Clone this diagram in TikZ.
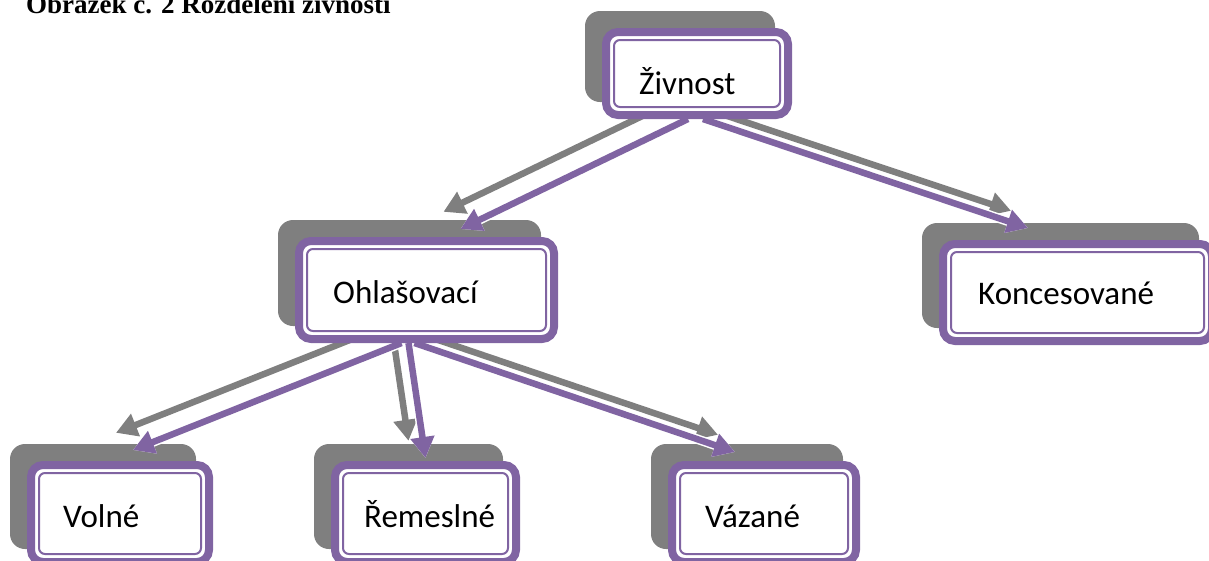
\documentclass[tikz,border=0pt]{standalone}
\usepackage{fontspec}
\setmainfont{Carlito}
\newfontfamily\titlefont{Liberation Serif}
\usetikzlibrary{arrows.meta}
\definecolor{pur}{HTML}{8064A2}
\definecolor{shd}{HTML}{7F7F7F}
\begin{document}
\begin{tikzpicture}[x=1pt,y=-1pt,
  shadowbox/.style={rectangle, rounded corners=15pt, fill=shd, inner sep=0pt},
  outerbox/.style={rectangle, rounded corners=12pt, draw=pur, line width=8pt, fill=white, inner sep=0pt},
  innerbox/.style={rectangle, rounded corners=6pt, draw=pur, line width=2pt, inner sep=0pt},
  boxtext/.style={anchor=base west, inner sep=0pt, font=\fontsize{33}{40}\selectfont},
  parrow/.style={draw=pur, line width=6.5pt, -{Triangle[length=21pt,width=23pt]},
    preaction={draw=white, line width=9.5pt, -{Triangle[length=21pt,width=23pt]}}},
  garrow/.style={draw=shd, line width=6.5pt, -{Triangle[length=21pt,width=23pt]}}
]
\useasboundingbox (0,0) rectangle (1209,560);
\clip (0,0) rectangle (1209,560);

% title (cut at the top edge, as in the reference)
\node[anchor=base west, inner sep=0pt, font=\titlefont\bfseries\fontsize{27}{32}\selectfont] (title) at (26,13) {Obrázek č. 2 Rozdělení živností};

% shadows
\node[shadowbox, minimum width=190pt, minimum height=91pt] (zvs) at (680,56.5) {};
\node[shadowbox, minimum width=263pt, minimum height=106pt] (ohs) at (409.5,273) {};
\node[shadowbox, minimum width=277pt, minimum height=105pt] (kos) at (1060.5,275.5) {};
\node[shadowbox, minimum width=186pt, minimum height=105pt] (vos) at (103,496.5) {};
\node[shadowbox, minimum width=189pt, minimum height=105pt] (res) at (408.5,496.5) {};
\node[shadowbox, minimum width=192pt, minimum height=105pt] (vas) at (747,496.5) {};

% shadow arrows
\draw[garrow] ([xshift=-9pt]zvs.south) -- ([shift={(34,-8)}]ohs.north);
\draw[garrow] ([xshift=6pt]zvs.south) -- ([shift={(-49.5,-12)}]kos.north);
\draw[garrow] ([xshift=-25pt]ohs.south) -- ([shift={(13,-11)}]vos.north);
\draw[garrow] ([xshift=-18pt]ohs.south) -- ([shift={(0,-3)}]res.north);
\draw[garrow] ([xshift=-12pt]ohs.south) -- ([shift={(-29,-9)}]vas.north);

% main box centres
\path (697,73.5) coordinate (zvc) (426.5,290) coordinate (ohc) (1077.5,292.5) coordinate (koc)
      (120,513.5) coordinate (voc) (425.5,513.5) coordinate (rec) (764,513.5) coordinate (vac);

% purple arrows
\draw[parrow] ([shift={(-9,45.5)}]zvc) -- ([shift={(34,-61)}]ohc);
\draw[parrow] ([shift={(6,45.5)}]zvc) -- ([shift={(-49.5,-64.5)}]koc);
\draw[parrow] ([shift={(-25,53)}]ohc) -- ([shift={(13,-63.5)}]voc);
\draw[parrow] ([shift={(-18,53)}]ohc) -- ([shift={(0,-55.5)}]rec);
\draw[parrow] ([shift={(-12,53)}]ohc) -- ([shift={(-29,-61.5)}]vac);

% boxes
\node[outerbox, minimum width=182pt, minimum height=83pt] (zv) at (zvc) {};
\node[innerbox, minimum width=166pt, minimum height=67pt] (zvi) at (zvc) {};
\node[outerbox, minimum width=255pt, minimum height=98pt] (oh) at (ohc) {};
\node[innerbox, minimum width=239pt, minimum height=82pt] (ohi) at (ohc) {};
\node[outerbox, minimum width=269pt, minimum height=97pt] (ko) at (koc) {};
\node[innerbox, minimum width=253pt, minimum height=81pt] (koi) at (koc) {};
\node[outerbox, minimum width=178pt, minimum height=97pt] (vo) at (voc) {};
\node[innerbox, minimum width=162pt, minimum height=81pt] (voi) at (voc) {};
\node[outerbox, minimum width=181pt, minimum height=97pt] (re) at (rec) {};
\node[innerbox, minimum width=165pt, minimum height=81pt] (rei) at (rec) {};
\node[outerbox, minimum width=184pt, minimum height=97pt] (va) at (vac) {};
\node[innerbox, minimum width=168pt, minimum height=81pt] (vai) at (vac) {};

% texts
\node[boxtext] (zvt) at (639,94) {Živnost};
\node[boxtext] (oht) at (333,303) {Ohlašovací};
\node[boxtext] (kot) at (978,304) {Koncesované};
\node[boxtext] (vot) at (63,527) {Volné};
\node[boxtext] (ret) at (364,527) {Řemeslné};
\node[boxtext] (vat) at (705,527) {Vázané};
\end{tikzpicture}
\end{document}
